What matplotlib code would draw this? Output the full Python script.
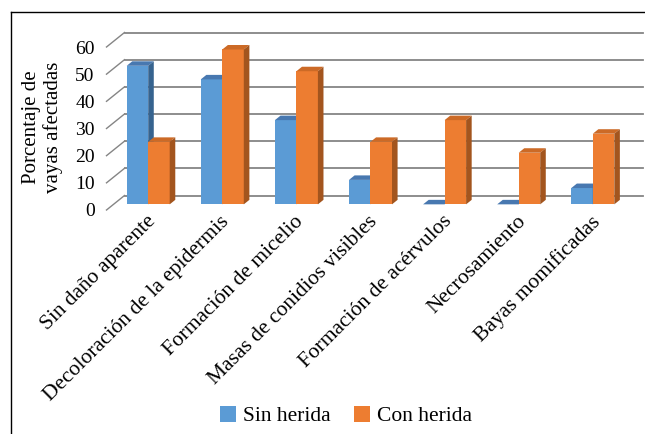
import matplotlib
matplotlib.use("Agg")
import matplotlib.pyplot as plt
from matplotlib.patches import Polygon, Patch
from matplotlib.lines import Line2D
import numpy as np

plt.rcParams['font.family'] = ['Liberation Serif', 'DejaVu Serif']

categories = ["Sin daño aparente", "Decoloración de la epidermis", "Formación de micelio",
              "Masas de conidios visibles", "Formación de acérvulos", "Necrosamiento",
              "Bayas momificadas"]
sin_herida = [51, 46, 31, 9, 0, 0, 6]
con_herida = [23, 57, 49, 23, 31, 19, 26]
series_names = ["Sin herida", "Con herida"]
yticks = [0, 10, 20, 30, 40, 50, 60]

front_cols = ["#5B9BD5", "#ED7D31"]
top_cols = ["#4878B0", "#CC6A26"]
side_cols = ["#36638F", "#A3551E"]

W, H = 645, 434
fig = plt.figure(figsize=(W / 100, H / 100), dpi=100)

# pixel layout
x_left, x_right = 106.5, 643.2
y_front0, y_back60 = 210.0, 32.5
cat_px = 74.1
DX = 18.0 / cat_px          # wall depth in category units
n = len(categories)
ymax = 60
DY = 14.5 / ((y_front0 - y_back60 - 14.5) / 60)   # wall depth in value units

ax = fig.add_axes([x_left / W, 1 - y_front0 / H, (x_right - x_left) / W, (y_front0 - y_back60) / H])
ax.set_xlim(0, n + DX)
ax.set_ylim(0, ymax + DY)
for s in ax.spines.values():
    s.set_visible(False)

grid_c = "#858585"
for v in yticks:
    ax.plot([DX, n + DX], [v + DY, v + DY], color=grid_c, lw=1.3, zorder=1, clip_on=False)
    ax.plot([0, DX], [v, v + DY], color=grid_c, lw=1.0, zorder=1, clip_on=False)

f_front = 0.39   # depth fraction of bar front faces
f_depth = 0.31   # bar depth fraction
bw = 21.5 / cat_px
x_nudge = -0.032
base = f_front * DY
ddx, ddy = f_depth * DX, f_depth * DY

data = [sin_herida, con_herida]
for i in range(n):
    c = i + 0.5 + f_front * DX + x_nudge
    for s in range(2):
        v = data[s][i]
        x0 = c - bw if s == 0 else c
        x1 = x0 + bw
        z = 3 + i * 2 + s
        ax.bar(x0, v, width=bw, bottom=base, align='edge', color=front_cols[s],
               lw=0, zorder=z, clip_on=False)
        yt = base + v
        ax.add_patch(Polygon([(x0, yt), (x1, yt), (x1 + ddx, yt + ddy), (x0 + ddx, yt + ddy)],
                             closed=True, facecolor=top_cols[s], lw=0, zorder=z, clip_on=False))
        if v > 0:
            ax.add_patch(Polygon([(x1, base), (x1, yt), (x1 + ddx, yt + ddy), (x1 + ddx, base + ddy)],
                                 closed=True, facecolor=side_cols[s], lw=0, zorder=z, clip_on=False))

ax.set_yticks(yticks)
ax.set_yticklabels([str(t) for t in yticks], fontsize=14)
ax.tick_params(axis='y', length=0, pad=8.5)

centers = [i + 0.5 + f_front * DX + x_nudge - 0.03 for i in range(n)]
ax.set_xticks(centers)
ax.set_xticklabels(categories, fontsize=15.5, rotation=45, ha='right', va='top',
                   rotation_mode='anchor')
ax.tick_params(axis='x', length=0, pad=1.5)

fig.text(42.5 / W, 1 - 127 / H, "Porcentaje de\nvayas afectadas", rotation=90,
         ha='center', va='center', fontsize=15, linespacing=1.2)

handles = [Patch(facecolor=front_cols[k], edgecolor='none') for k in range(2)]
fig.legend(handles, series_names, loc='center', bbox_to_anchor=(346 / W, 1 - 416 / H),
           ncol=2, frameon=False, fontsize=15.5, handlelength=0.75, handleheight=0.75,
           handletextpad=0.35, columnspacing=1.05, borderpad=0, borderaxespad=0)

# outer frame (left and top edges)
fig.add_artist(Line2D([11 / W, 11 / W], [0, 1 - 12 / H], color='black', lw=1.0))
fig.add_artist(Line2D([11 / W, 1], [1 - 12 / H, 1 - 12 / H], color='black', lw=1.0))

fig.savefig("out.png", dpi=100)
